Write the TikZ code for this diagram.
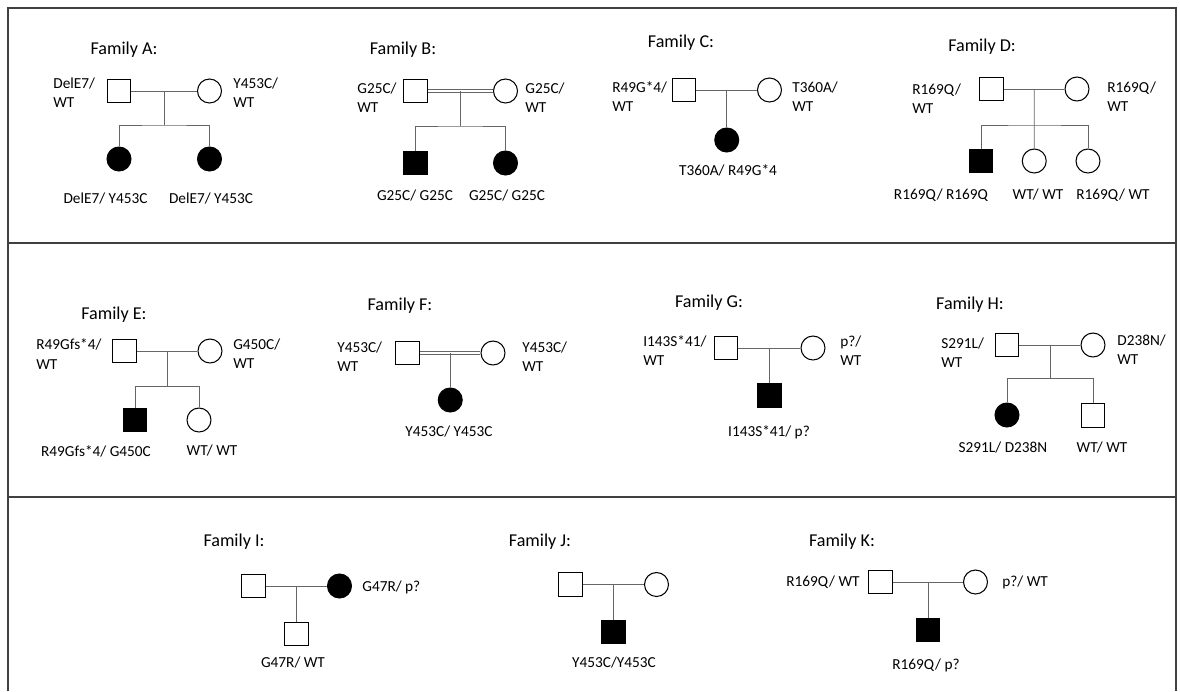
\documentclass[tikz,border=0pt]{standalone}
\usepackage{fontspec}
\setmainfont{Carlito}
\usetikzlibrary{calc}

\begin{document}
\begin{tikzpicture}[
    x=0.02cm, y=-0.02cm,
    every node/.style={font=\fontsize{8.7}{11}\selectfont},
    base/.style={draw, inner sep=0, line width=0.6pt},
    male/.style={base, rectangle, minimum size=0.47cm},
    female/.style={base, circle, minimum size=0.48cm},
    affected/.style={fill=black},
    title/.style={font=\fontsize{10.3}{12}\selectfont},
    geno/.style={align=left, inner sep=0},
    kinline/.style={draw=black!60, line width=0.5pt},
    consang/.style={kinline, double, double distance=1.6pt},
    frame/.style={draw=black!75, line width=1.2pt}
]

\useasboundingbox (0,0) rectangle (1180,691);

\draw[frame] (8,691) -- (8,8) -- (1176,8) -- (1176,691);
\draw[frame] (8,243) -- (1176,243);
\draw[frame] (8,497) -- (1176,497);

\node[title] (TA) at (124,50) {Family A:};
\node[male] (Af) at (119,91) {};
\node[female] (Am) at (209.5,91) {};
\node[female, affected] (Ac1) at (119,159) {};
\node[female, affected] (Ac2) at (209.5,159) {};
\node[geno, anchor=west] (AfG) at (53,93) {DelE7/\\WT};
\node[geno, anchor=west] (AmG) at (233,93) {Y453C/\\WT};
\node (Ac1G) at (105.5,199) {DelE7/ Y453C};
\node (Ac2G) at (211,199) {DelE7/ Y453C};

\node[title] (TB) at (403,50) {Family B:};
\node[male] (Bf) at (415.5,91) {};
\node[female] (Bm) at (505.5,91) {};
\node[male, affected] (Bc1) at (415.5,163) {};
\node[female, affected] (Bc2) at (505.5,163) {};
\node[geno, anchor=west] (BfG) at (357,98) {G25C/\\WT};
\node[geno, anchor=west] (BmG) at (525,98) {G25C/\\WT};
\node (Bc1G) at (415,196) {G25C/ G25C};
\node (Bc2G) at (507,196) {G25C/ G25C};

\node[title] (TC) at (681,43) {Family C:};
\node[male] (Cf) at (684,90) {};
\node[female] (Cm) at (769.5,90) {};
\node[female, affected] (Cc) at (726.75,140) {};
\node[geno, anchor=west] (CfG) at (612,96.5) {R49G*4/\\WT};
\node[geno, anchor=west] (CmG) at (792,96.5) {T360A/\\WT};
\node (CcG) at (728,170) {T360A/ R49G*4};

\node[title] (TD) at (982,47) {Family D:};
\node[male] (Df) at (991.5,89) {};
\node[female] (Dm) at (1077,89) {};
\node[male, affected] (Dc1) at (981,161) {};
\node[female] (Dc2) at (1034.25,161) {};
\node[female] (Dc3) at (1088,161) {};
\node[geno, anchor=west] (DfG) at (912,98.5) {R169Q/\\WT};
\node[geno, anchor=west] (DmG) at (1107,97) {R169Q/\\WT};
\node (Dc1G) at (941,195) {R169Q/ R169Q};
\node (Dc2G) at (1038,195) {WT/ WT};
\node (Dc3G) at (1113,195) {R169Q/ WT};

\node[title] (TE) at (114,315) {Family E:};
\node[male] (Ef) at (124.5,351) {};
\node[female] (Em) at (210,351) {};
\node[male, affected] (Ec1) at (135,420) {};
\node[female] (Ec2) at (199,420) {};
\node[geno, anchor=west] (EfG) at (36,354) {R49Gfs*4/\\WT};
\node[geno, anchor=west] (EmG) at (233,354) {G450C/\\WT};
\node (Ec1G) at (96,451) {R49Gfs*4/ G450C};
\node (Ec2G) at (212,451) {WT/ WT};

\node[title] (TF) at (400,306) {Family F:};
\node[male] (Ff) at (407.5,353) {};
\node[female] (Fm) at (493,353) {};
\node[female, affected] (Fc) at (450.25,400) {};
\node[geno, anchor=west] (FfG) at (337,357) {Y453C/\\WT};
\node[geno, anchor=west] (FmG) at (522,357) {Y453C/\\WT};
\node (FcG) at (449,432) {Y453C/ Y453C};

\node[title] (TG) at (709,303) {Family G:};
\node[male] (Gf) at (726,348) {};
\node[female] (Gm) at (813,348) {};
\node[male, affected] (Gc) at (769.5,395.5) {};
\node[geno, anchor=west] (GfG) at (643,350.5) {I143S*41/\\WT};
\node[geno, anchor=west] (GmG) at (840,350.5) {p?/\\WT};
\node (GcG) at (769,432) {I143S*41/ p?};

\node[title] (TH) at (970,305) {Family H:};
\node[male] (Hf) at (1007,345) {};
\node[female] (Hm) at (1093,345) {};
\node[female, affected] (Hc1) at (1007,415) {};
\node[male] (Hc2) at (1093,415.5) {};
\node[geno, anchor=west] (HfG) at (941,352.5) {S291L/\\WT};
\node[geno, anchor=west] (HmG) at (1117,350) {D238N/\\WT};
\node (Hc1G) at (1003,448) {S291L/ D238N};
\node (Hc2G) at (1102,448) {WT/ WT};

\node[title] (TI) at (234,542) {Family I:};
\node[male] (If) at (253.5,586) {};
\node[female, affected] (Im) at (339.5,586) {};
\node[male] (Ic) at (296.5,634) {};
\node[geno, anchor=west] (ImG) at (362,587) {G47R/ p?};
\node (IcG) at (293,663) {G47R/ WT};

\node[title] (TJ) at (540,542) {Family J:};
\node[male] (Jf) at (570.5,584.5) {};
\node[female] (Jm) at (656.5,584.5) {};
\node[male, affected] (Jc) at (613.5,632) {};
\node (JcG) at (614,663) {Y453C/Y453C};

\node[title] (TK) at (842,542) {Family K:};
\node[male] (Kf) at (880.5,582) {};
\node[female] (Km) at (975.5,582) {};
\node[male, affected] (Kc) at (928,630) {};
\node[geno, anchor=west] (KfG) at (786,582) {R169Q/ WT};
\node[geno, anchor=west] (KmG) at (1002,582) {p?/ WT};
\node (KcG) at (926,665) {R169Q/ p?};

\coordinate (Amid) at ($(Af)!0.5!(Am)$);
\coordinate (Asib) at ($(Amid)+(0,34)$);
\coordinate (Bmid) at ($(Bf)!0.5!(Bm)$);
\coordinate (Bsib) at ($(Bmid)+(0,35)$);
\coordinate (Cmid) at ($(Cf)!0.5!(Cm)$);
\coordinate (Dmid) at ($(Df)!0.5!(Dm)$);
\coordinate (Dsib) at ($(Dmid)+(0,36)$);
\coordinate (Emid) at ($(Ef)!0.5!(Em)$);
\coordinate (Esib) at ($(Emid)+(0,35)$);
\coordinate (Fmid) at ($(Ff)!0.5!(Fm)$);
\coordinate (Gmid) at ($(Gf)!0.5!(Gm)$);
\coordinate (Hmid) at ($(Hf)!0.5!(Hm)$);
\coordinate (Hsib) at ($(Hmid)+(0,33)$);
\coordinate (Imid) at ($(If)!0.5!(Im)$);
\coordinate (Jmid) at ($(Jf)!0.5!(Jm)$);
\coordinate (Kmid) at ($(Kf)!0.5!(Km)$);

\draw[kinline] (Af) -- (Am);
\draw[kinline] (Amid) -- (Asib);
\draw[kinline] (Ac1) |- (Asib) -| (Ac2);
\draw[consang] (Bf) -- (Bm);
\draw[kinline] (Bmid) -- (Bsib);
\draw[kinline] (Bc1) |- (Bsib) -| (Bc2);
\draw[kinline] (Cf) -- (Cm);
\draw[kinline] (Cmid) -- (Cmid |- Cc.north);
\draw[kinline] (Df) -- (Dm);
\draw[kinline] (Dmid) -- (Dc2);
\draw[kinline] (Dc1) |- (Dsib) -| (Dc3);
\draw[kinline] (Ef) -- (Em);
\draw[kinline] (Emid) -- (Esib);
\draw[kinline] (Ec1) |- (Esib) -| (Ec2);
\draw[consang] (Ff) -- (Fm);
\draw[kinline] (Fmid) -- (Fmid |- Fc.north);
\draw[kinline] (Gf) -- (Gm);
\draw[kinline] (Gmid) -- (Gmid |- Gc.north);
\draw[kinline] (Hf) -- (Hm);
\draw[kinline] (Hmid) -- (Hsib);
\draw[kinline] (Hc1) |- (Hsib) -| (Hc2);
\draw[kinline] (If) -- (Im);
\draw[kinline] (Imid) -- (Imid |- Ic.north);
\draw[kinline] (Jf) -- (Jm);
\draw[kinline] (Jmid) -- (Jmid |- Jc.north);
\draw[kinline] (Kf) -- (Km);
\draw[kinline] (Kmid) -- (Kmid |- Kc.north);

\end{tikzpicture}
\end{document}
